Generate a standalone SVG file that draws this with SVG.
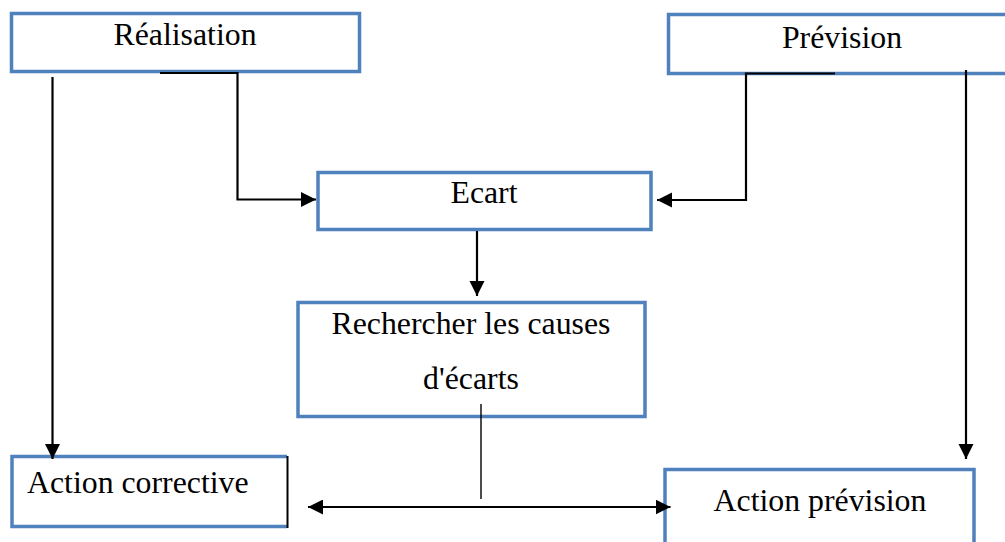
<svg xmlns="http://www.w3.org/2000/svg" width="1005" height="542" viewBox="0 0 1005 542">
  <defs>
    <style>
      .box { fill: #ffffff; stroke: #4F81BD; stroke-width: 3.5; }
      .edge { fill: none; stroke: #000000; stroke-width: 2.2; }
      .thin { fill: none; stroke: #000000; stroke-width: 1.4; }
      .lbl { font-family: "Liberation Serif", "Times New Roman", serif; font-size: 31.8px; fill: #000000; }
    </style>
    <marker id="arrow" markerUnits="userSpaceOnUse" markerWidth="16" markerHeight="16" refX="15" refY="7.5" orient="auto">
      <path d="M0,0 L15,7.5 L0,15 z" fill="#000000"/>
    </marker>
    <marker id="arrowStart" markerUnits="userSpaceOnUse" markerWidth="16" markerHeight="16" refX="0" refY="7.5" orient="auto">
      <path d="M15,0 L0,7.5 L15,15 z" fill="#000000"/>
    </marker>
  </defs>

  <rect width="1005" height="542" fill="#ffffff"/>

  <g id="node-realisation">
    <rect class="box" x="11.5" y="13.5" width="348" height="58"/>
    <text class="lbl" x="185" y="45" text-anchor="middle">Réalisation</text>
  </g>

  <g id="node-prevision">
    <rect class="box" x="668.5" y="14.5" width="345" height="59"/>
    <text class="lbl" x="842" y="47.5" text-anchor="middle">Prévision</text>
  </g>

  <g id="node-ecart">
    <rect class="box" x="318" y="172.5" width="333" height="57"/>
    <text class="lbl" x="484" y="203" text-anchor="middle">Ecart</text>
  </g>

  <g id="node-causes">
    <rect class="box" x="298" y="302.5" width="347" height="114"/>
    <text class="lbl" x="471" y="333.5" text-anchor="middle">Rechercher les causes</text>
    <text class="lbl" x="471" y="389" text-anchor="middle">d'écarts</text>
  </g>

  <g id="node-action-corrective">
    <path d="M287,456.5 H12 V526.5 H287" fill="#ffffff" stroke="#4F81BD" stroke-width="3.5"/>
    <line x1="287.5" y1="456" x2="287.5" y2="528" stroke="#000000" stroke-width="2"/>
    <text class="lbl" x="27" y="493">Action corrective</text>
  </g>

  <g id="node-action-prevision">
    <rect class="box" x="665" y="469.5" width="309" height="90"/>
    <text class="lbl" x="820" y="511" text-anchor="middle">Action prévision</text>
  </g>

  <g id="connectors">
    <!-- Réalisation -> Ecart -->
    <polyline class="edge" points="160,73 237.5,73 237.5,199.5 316,199.5" marker-end="url(#arrow)"/>
    <!-- Prévision -> Ecart -->
    <polyline class="edge" points="835,73.5 746,73.5 746,200 657,200" marker-end="url(#arrow)"/>
    <!-- Réalisation -> Action corrective -->
    <line class="edge" x1="52.5" y1="77" x2="52.5" y2="459" marker-end="url(#arrow)"/>
    <!-- Prévision -> Action prévision -->
    <line class="edge" x1="966" y1="70" x2="966" y2="459" marker-end="url(#arrow)"/>
    <!-- Ecart -> Rechercher les causes -->
    <line class="edge" x1="477" y1="231" x2="477" y2="296" marker-end="url(#arrow)"/>
    <!-- Rechercher les causes -> both actions -->
    <line class="thin" x1="481" y1="404" x2="481" y2="499"/>
    <line class="edge" x1="308" y1="507" x2="670.5" y2="507" marker-start="url(#arrowStart)" marker-end="url(#arrow)"/>
  </g>
</svg>
